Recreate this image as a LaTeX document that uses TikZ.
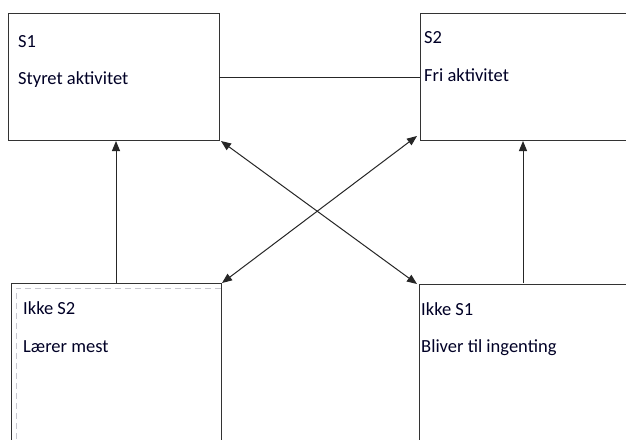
\documentclass[tikz,border=0pt]{standalone}
\usepackage{fontspec}
\setmainfont{Carlito}
\usetikzlibrary{arrows.meta}
\begin{document}
\begin{tikzpicture}[x=1pt,y=-1pt,
  box/.style={draw=black!80,line width=1.1pt,rectangle,inner sep=0pt,anchor=north west},
  lbl/.style={anchor=base west,inner sep=0pt,font=\fontsize{18.5}{20}\selectfont,text=black!85!blue},
  conn/.style={draw=black!85,line width=1pt},
  arr/.style={conn,-{Triangle[length=10pt,width=8pt]}},
  darr/.style={conn,{Triangle[length=10pt,width=8pt]}-{Triangle[length=10pt,width=8pt]}}]
\useasboundingbox (0,0) rectangle (626,439);
\clip (0,0) rectangle (626,439);
\fill[white] (0,0) rectangle (626,439);
% boxes
\node[box,minimum width=211pt,minimum height=127pt] (s1) at (8,13) {};
\node[box,minimum width=230pt,minimum height=127pt] (s2) at (420,13) {};
\node[box,minimum width=210pt,minimum height=180pt] (ik2) at (11,283) {};
\node[box,minimum width=230pt,minimum height=180pt] (ik1) at (419,284) {};
\draw[draw=black!20!blue!10!gray!40,line width=0.8pt,dash pattern=on 6pt off 4pt] (221,288) -- (16,288) coordinate (dtl) -- (16,450) coordinate (dbl);
% texts
\node[lbl] (t1a) at (18,47) {S1};
\node[lbl] (t1b) at (18,84) {Styret aktivitet};
\node[lbl] (t2a) at (424,43) {S2};
\node[lbl] (t2b) at (424,81) {Fri aktivitet};
\node[lbl] (t3a) at (23,314) {Ikke S2};
\node[lbl] (t3b) at (23,352) {Lærer mest};
\node[lbl] (t4a) at (421,315) {Ikke S1};
\node[lbl] (t4b) at (421,352) {Bliver til ingenting};
% connectors
\coordinate (c1) at (219,77);
\coordinate (c2) at (420,77);
\draw[conn] (c1) -- (c2);
\coordinate (u1s) at (116,283);
\coordinate (u1e) at (116,141);
\draw[arr] (u1s) -- (u1e);
\coordinate (u2s) at (523,283);
\coordinate (u2e) at (523,141);
\draw[arr] (u2s) -- (u2e);
\coordinate (d1a) at (221,141);
\coordinate (d1b) at (417,284);
\draw[darr] (d1a) -- (d1b);
\coordinate (d2a) at (417,136);
\coordinate (d2b) at (222,283);
\draw[darr] (d2a) -- (d2b);
\end{tikzpicture}
\end{document}
